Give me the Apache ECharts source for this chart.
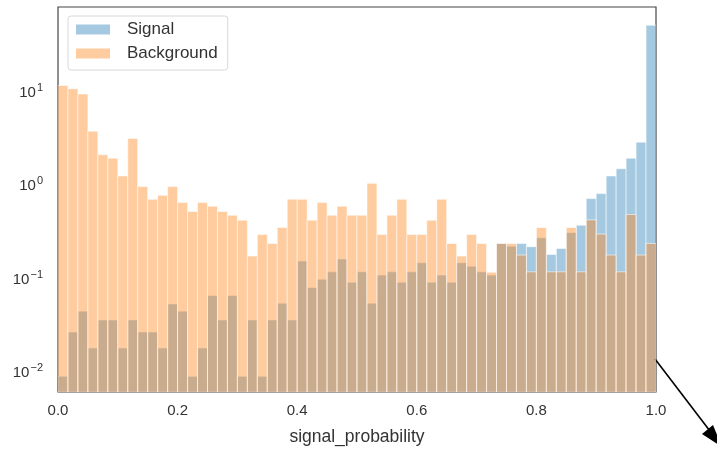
<!DOCTYPE html>
<html>
<head>
<meta charset="utf-8">
<script src="https://cdn.jsdelivr.net/npm/echarts@6/dist/echarts.min.js"></script>
<style>
  html, body { margin: 0; padding: 0; background: #fff; }
  #chart { width: 717px; height: 451px; }
</style>
</head>
<body>
<div id="chart"></div>
<script>
// ---- data (density per bin, 60 equal bins on [0, 1]) ----
const N_BINS = 60;
const X_TICKS = [0.0, 0.2, 0.4, 0.6, 0.8, 1.0];
const Y_TICK_EXPONENTS = [-2, -1, 0, 1];
const SERIES_NAMES = ['Signal', 'Background'];

const signalValues = [
  0.0087, 0.026, 0.0435, 0.0175, 0.035, 0.035, 0.0175, 0.035, 0.026, 0.026,
  0.0175, 0.052, 0.0435, 0.0087, 0.0175, 0.064, 0.035, 0.064, 0.0087, 0.035,
  0.0087, 0.035, 0.053, 0.035, 0.150, 0.078, 0.096, 0.115, 0.158, 0.089,
  0.115, 0.053, 0.106, 0.115, 0.089, 0.115, 0.144, 0.089, 0.106, 0.089,
  0.144, 0.132, 0.115, 0.106, 0.232, 0.217, 0.232, 0.214, 0.267, 0.177,
  0.205, 0.304, 0.364, 0.703, 0.795, 1.23, 1.47, 1.91, 2.83, 51.0
];

const backgroundValues = [
  11.5, 10.6, 9.33, 3.72, 2.08, 1.91, 1.23, 3.10, 0.945, 0.69,
  0.763, 0.945, 0.637, 0.511, 0.637, 0.582, 0.511, 0.466, 0.412, 0.170,
  0.290, 0.232, 0.344, 0.691, 0.691, 0.412, 0.637, 0.466, 0.582, 0.466,
  0.466, 1.025, 0.290, 0.466, 0.691, 0.290, 0.290, 0.412, 0.691, 0.232,
  0.170, 0.290, 0.232, 0.114, 0.232, 0.232, 0.174, 0.115, 0.344, 0.115,
  0.115, 0.344, 0.115, 0.415, 0.292, 0.174, 0.115, 0.474, 0.174, 0.232
];

const Y_MIN = 0.0059;
const Y_MAX = 80;

// ---- build ----
const FONT = "'Liberation Sans', Arial, Helvetica, sans-serif";
const TEXT = '#333';

function binData(values) {
  return values.map((v, i) => [i / N_BINS, (i + 1) / N_BINS, v]);
}

function renderBar(params, api) {
  const x0 = api.value(0), x1 = api.value(1), v = api.value(2);
  const pTop = api.coord([x0, v]);
  const pBase = api.coord([x1, Y_MIN]);
  return {
    type: 'rect',
    shape: { x: pTop[0], y: pTop[1], width: pBase[0] - pTop[0], height: pBase[1] - pTop[1] },
    style: { fill: api.visual('color'), stroke: 'rgba(255,255,255,0.55)', lineWidth: 1 }
  };
}

function yLabel(v) {
  const l = Math.log10(v);
  const e = Math.round(l);
  if (Math.abs(l - e) > 1e-6 || Y_TICK_EXPONENTS.indexOf(e) < 0) return '';
  const es = String(e).replace('-', '\u2212');
  return '{b|10}{s|' + es + '}';
}

const chart = echarts.init(document.getElementById('chart'), null, { renderer: 'canvas' });
chart.setOption({
  animation: false,
  backgroundColor: '#fff',
  textStyle: { fontFamily: FONT },
  grid: {
    left: 58, right: 61, top: 7, bottom: 57,
    show: true, borderColor: '#444', borderWidth: 1.2, backgroundColor: '#fff'
  },
  legend: {
    data: SERIES_NAMES,
    orient: 'vertical',
    left: 68, top: 16,
    padding: [5, 10, 8, 8],
    itemWidth: 34, itemHeight: 10, itemGap: 7,
    icon: 'rect',
    borderColor: '#d8d8d8', borderWidth: 1, borderRadius: 3,
    backgroundColor: 'rgba(255,255,255,0.8)',
    textStyle: { fontSize: 17, color: TEXT, fontFamily: FONT, padding: [0, 0, 0, 12] }
  },
  xAxis: {
    type: 'value', min: 0, max: 1, interval: 0.2,
    name: 'signal_probability', nameLocation: 'middle', nameGap: 36,
    nameTextStyle: { fontSize: 17.5, color: TEXT, fontFamily: FONT },
    axisLine: { show: false }, axisTick: { show: false }, splitLine: { show: false },
    axisLabel: {
      margin: 11, fontSize: 15, color: TEXT, fontFamily: FONT,
      formatter: v => (X_TICKS.some(t => Math.abs(t - v) < 1e-9) ? v.toFixed(1) : '')
    }
  },
  yAxis: {
    type: 'log', logBase: 10, min: Y_MIN, max: Y_MAX,
    axisLine: { show: false }, axisTick: { show: false }, splitLine: { show: false },
    axisLabel: {
      margin: 15, color: TEXT, fontFamily: FONT,
      showMinLabel: false, showMaxLabel: false,
      formatter: yLabel,
      rich: {
        b: { fontSize: 15, color: TEXT, fontFamily: FONT, lineHeight: 19, verticalAlign: 'bottom', padding: [4, 0, 0, 0] },
        s: { fontSize: 11, color: TEXT, fontFamily: FONT, lineHeight: 19, verticalAlign: 'top', padding: [1, 0, 0, 1] }
      }
    }
  },
  series: [
    {
      name: SERIES_NAMES[0], type: 'custom', clip: true,
      itemStyle: { color: 'rgba(31,119,180,0.4)' },
      encode: { x: [0, 1], y: 2 },
      renderItem: renderBar,
      data: binData(signalValues)
    },
    {
      name: SERIES_NAMES[1], type: 'custom', clip: true,
      itemStyle: { color: 'rgba(255,127,14,0.4)' },
      encode: { x: [0, 1], y: 2 },
      renderItem: renderBar,
      data: binData(backgroundValues)
    }
  ],
  graphic: [
    { type: 'line', shape: { x1: 655, y1: 359, x2: 713, y2: 435 }, style: { stroke: '#000', lineWidth: 1.6 } },
    { type: 'polygon', shape: { points: [[722, 447], [702, 434], [713, 425]] }, style: { fill: '#000' } }
  ]
});
</script>
</body>
</html>
